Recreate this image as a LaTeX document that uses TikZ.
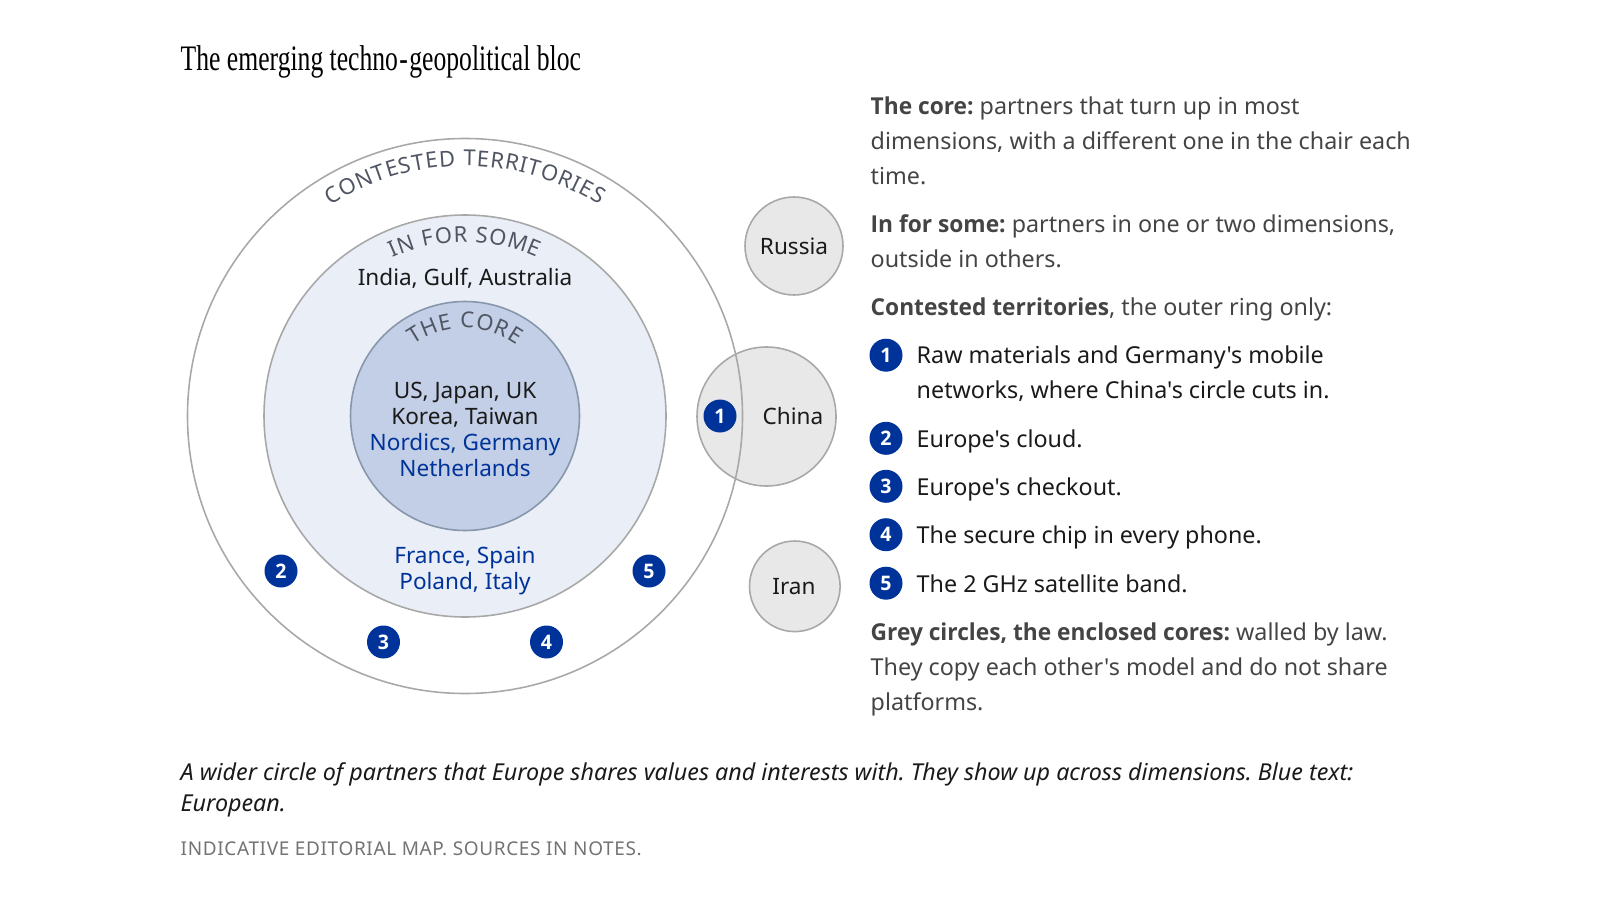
\documentclass[tikz,border=0pt]{standalone}
\usepackage{fontspec}
\usepackage{xcolor}
\usetikzlibrary{decorations.text}
\setmainfont[Ligatures=TeXOff, BoldFont={Open Sans Bold}, BoldFeatures={FakeStretch=0.975}]{Noto Sans}
\newfontfamily\titlefont[FakeStretch=0.715]{Liberation Serif}
\newfontfamily\notefont[LetterSpace=3.4]{Noto Sans}
\definecolor{euroblue}{HTML}{003399}
\definecolor{corefill}{HTML}{C3CFE6}
\definecolor{somefill}{HTML}{E9EEF7}
\definecolor{greyfill}{HTML}{E8E8E8}
\definecolor{ringline}{HTML}{A8A8A8}
\definecolor{coreline}{HTML}{8896AA}
\definecolor{bodygrey}{HTML}{444444}
\definecolor{inkblack}{HTML}{1A1A1A}
\definecolor{arcgrey}{HTML}{4F5562}
\tikzset{
  ring/.style={circle, draw=ringline, line width=0.45pt, inner sep=0pt, outer sep=0pt, minimum size=#1},
  badge/.style={circle, fill=euroblue, text=white, inner sep=0pt, minimum size=0.33cm,
    font=\fontsize{5.7}{7}\selectfont\bfseries},
  inring/.style={align=center, text=inkblack, font=\fontsize{6.42}{7.4}\selectfont},
  para/.style={anchor=base west, align=left, inner sep=0pt, text=bodygrey,
    font=\fontsize{6.63}{9.96}\selectfont},
  item/.style={para, text=inkblack},
  arclabel/.style={decorate, decoration={text effects along path, text={#1}, text align=center,
    text effects/.cd, text along path, character widths={inner xsep=0.14pt, font=\fontsize{6.25}{7}\selectfont},
    characters={text=arcgrey, font=\fontsize{6.25}{7}\selectfont}}},
}
\frenchspacing
\begin{document}
\begin{tikzpicture}
  \useasboundingbox (0,0) rectangle (16,9);
  \coordinate (hub) at (4.65,4.84);

  % Title
  \node[anchor=base west, inner sep=0pt, text=black, font=\fontsize{10.2}{11}\selectfont\titlefont] (title) at (1.80,8.29) {The emerging techno\kern0.4pt-\kern0.4pt geopolitical bloc};

  % Grey circles
  \node[ring=1.39cm, fill=greyfill] (china) at (7.665,4.835) {};
  \node[ring=0.98cm, fill=greyfill] (russia) at (7.94,6.54) {};
  \node[ring=0.906cm, fill=greyfill] (iran) at (7.948,3.137) {};

  % Rings
  \node[ring=5.55cm] (outer) at (hub) {};
  \node[ring=4.02cm, fill=somefill] (some) at (hub) {};
  \node[ring=2.29cm, fill=corefill, draw=coreline] (core) at (hub) {};

  % Ring titles
  \path[arclabel={CONTESTED TERRITORIES}] ([shift={(170:2.5)}]hub) arc[start angle=170, end angle=10, radius=2.5];
  \path[arclabel={IN FOR SOME}] ([shift={(170:1.74)}]hub) arc[start angle=170, end angle=10, radius=1.74];
  \path[arclabel={THE CORE}] ([shift={(170:0.88)}]hub) arc[start angle=170, end angle=10, radius=0.88];

  % Ring members
  \node[inring] (india) at (4.65,6.22) {India, Gulf, Australia};
  \node[inring] (members) at (4.65,4.71) {US, Japan, UK\\Korea, Taiwan\\\textcolor{euroblue}{Nordics, Germany}\\\textcolor{euroblue}{Netherlands}};
  \node[inring, text=euroblue] (europe) at (4.65,3.29) {France, Spain\\Poland, Italy};

  \node[inring] (chinalabel) at (7.93,4.84) {China};
  \node[inring] (russialabel) at (7.94,6.54) {Russia};
  \node[inring] (iranlabel) at (7.94,3.13) {Iran};

  % Badges on the map
  \node[badge] (m1) at (7.20,4.84) {1};
  \node[badge] (m2) at (2.81,3.29) {2};
  \node[badge] (m3) at (3.835,2.58) {3};
  \node[badge] (m4) at (5.465,2.58) {4};
  \node[badge] (m5) at (6.49,3.29) {5};

  % Right column
  \node[para] (pcore) at (8.70,7.159) {\textbf{The core:} partners that turn up in most\\dimensions, with a different one in the chair each\\time.};
  \node[para] (psome) at (8.70,6.325) {\textbf{In for some:} partners in one or two dimensions,\\outside in others.};
  \node[para] (pcontest) at (8.70,5.849) {\textbf{Contested territories}, the outer ring only:};

  \node[badge] (k1) at (8.86,5.448) {1};
  \node[item] (t1) at (9.16,5.019) {Raw materials and Germany's mobile\\networks, where China's circle cuts in.};
  \node[badge] (k2) at (8.86,4.617) {2};
  \node[item] (t2) at (9.16,4.526) {Europe's cloud.};
  \node[badge] (k3) at (8.86,4.137) {3};
  \node[item] (t3) at (9.16,4.046) {Europe's checkout.};
  \node[badge] (k4) at (8.86,3.653) {4};
  \node[item] (t4) at (9.16,3.563) {The secure chip in every phone.};
  \node[badge] (k5) at (8.86,3.168) {5};
  \node[item] (t5) at (9.16,3.078) {The 2 GHz satellite band.};

  \node[para] (pgrey) at (8.70,1.895) {\textbf{Grey circles, the enclosed cores:} walled by law.\\They copy each other's model and do not share\\platforms.};

  % Caption and note
  \node[item, font=\fontsize{6.63}{8.82}\selectfont\itshape] (caption) at (1.80,0.885) {A wider circle of partners that Europe shares values and interests with. They show up across dimensions. Blue text:\\European.};
  \node[anchor=base west, inner sep=0pt, text=black!55, font=\fontsize{5.4}{7}\selectfont\notefont] (note) at (1.80,0.45) {INDICATIVE EDITORIAL MAP. SOURCES IN NOTES.};
\end{tikzpicture}
\end{document}
